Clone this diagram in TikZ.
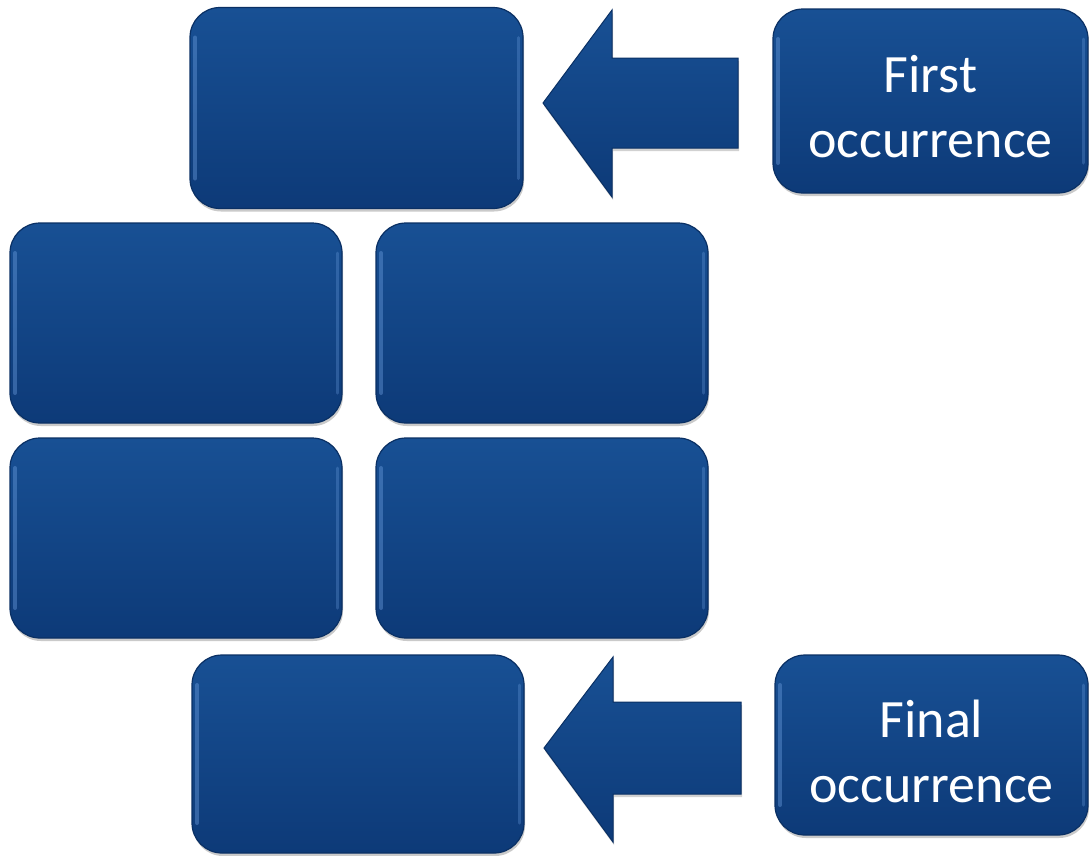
\documentclass[tikz,border=0pt]{standalone}
\usepackage{fontspec}
\setmainfont{Carlito}
\usetikzlibrary{calc,shadows}
\definecolor{boxtop}{RGB}{24,80,148}
\definecolor{boxbot}{RGB}{13,58,120}
\definecolor{boxedge}{RGB}{10,48,100}
\definecolor{boxhi}{RGB}{110,160,225}
\tikzset{
  bluebox/.style={rectangle, rounded corners=30pt, top color=boxtop, bottom color=boxbot,
    draw=boxedge, line width=1.2pt, inner sep=0pt,
    drop shadow={opacity=0.35, shadow xshift=1pt, shadow yshift=-3pt, fill=black!60},
    path picture={
      \draw[boxhi, line width=4pt, opacity=0.4, line cap=round]
        ($(path picture bounding box.north west)+(5,30)$) -- ($(path picture bounding box.south west)+(5,-30)$);
      \draw[boxhi, line width=3pt, opacity=0.3, line cap=round]
        ($(path picture bounding box.north east)+(-5,30)$) -- ($(path picture bounding box.south east)+(-5,-30)$);
    }},
  labeltext/.style={text=white, font=\fontsize{54}{65}\selectfont, align=center},
  blockarrow/.style={top color=boxtop, bottom color=boxbot, draw=boxedge, line width=1pt,
    drop shadow={opacity=0.3, shadow xshift=1pt, shadow yshift=-3pt, fill=black!60}}
}
\begin{document}
\begin{tikzpicture}[x=1pt,y=-1pt]
\useasboundingbox (0,0) rectangle (1089,855);
\node[bluebox, minimum width=333pt, minimum height=201pt] (top) at (356.5,108) {};
\node[bluebox, minimum width=332pt, minimum height=200pt] (r2l) at (176,323) {};
\node[bluebox, minimum width=332pt, minimum height=200pt] (r2r) at (542,323) {};
\node[bluebox, minimum width=332pt, minimum height=200pt] (r3l) at (176,538) {};
\node[bluebox, minimum width=332pt, minimum height=200pt] (r3r) at (542,538) {};
\node[bluebox, minimum width=332pt, minimum height=198pt] (bot) at (358,754) {};
\node[bluebox, minimum width=315pt, minimum height=184pt] (first) at (930.5,101) {};
\node[labeltext] (firsttext) at ($(first.center)+(0,6)$) {First\\occurrence};
\node[bluebox, minimum width=313pt, minimum height=180pt] (final) at (931.5,745) {};
\node[labeltext] (finaltext) at ($(final.center)+(0,6)$) {Final\\occurrence};
% block arrows
\coordinate (t1) at (543,103);
\coordinate (t2) at (544,748);
\path[blockarrow] (t1) -- (612,10) -- (612,58) -- (738,58) -- (738,148) -- (612,148) -- (612,197) -- cycle;
\path[blockarrow] (t2) -- (613,657) -- (613,702) -- (741,702) -- (741,794) -- (613,794) -- (613,842) -- cycle;
\end{tikzpicture}
\end{document}
